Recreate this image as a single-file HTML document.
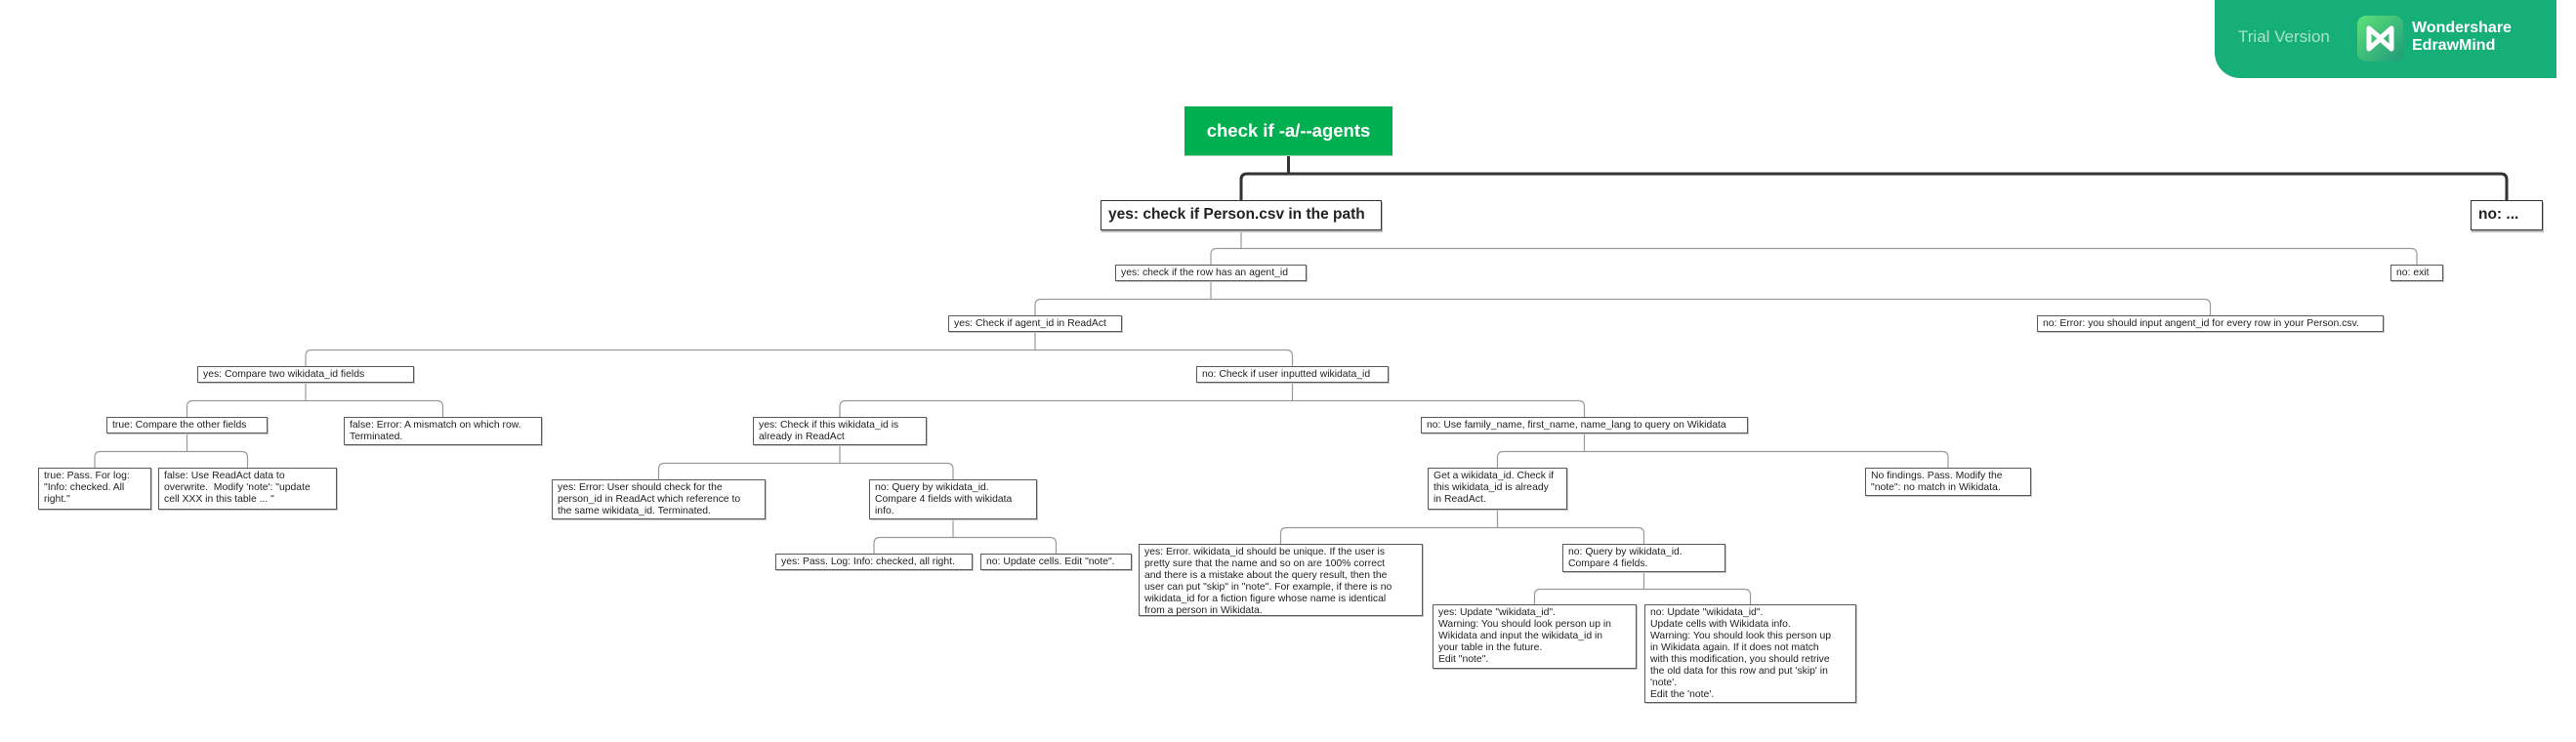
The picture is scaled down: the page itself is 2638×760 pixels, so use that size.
<!DOCTYPE html>
<html><head><meta charset="utf-8">
<style>
html,body{margin:0;padding:0;background:#fff;}
body{width:2638px;height:760px;position:relative;overflow:hidden;font-family:"Liberation Sans",Arial,sans-serif;}
.b{position:absolute;box-sizing:border-box;border:1px solid #5a5a5a;box-shadow:1px 1px 0 #c4c4c4;background:#fff;font-size:10.4px;line-height:12px;padding:2px 5px;color:#222;white-space:nowrap;}
.big{font-weight:bold;font-size:15.5px;line-height:27px;padding:0 7px;border:1.5px solid #333;box-shadow:1px 2px 0 #bbb;}
#root{position:absolute;left:1213px;top:109px;width:213px;height:50px;background:#00b050;color:#fff;font-weight:bold;font-size:18.5px;line-height:50px;text-align:center;box-shadow:0 1px 0 #9bd3b0;}
#banner{position:absolute;left:2268px;top:0;width:350px;height:80px;background:#16ae79;border-bottom-left-radius:26px;}
svg{position:absolute;left:0;top:0;}
</style></head><body>
<svg id="lines" width="2638" height="760"></svg>
<div id="banner">
 <div style="position:absolute;left:24px;top:28px;font-size:17px;color:#a9e2cc;">Trial Version</div>
 <div style="position:absolute;left:146px;top:16px;width:47px;height:47px;border-radius:9px;background:linear-gradient(135deg,#5fe07a,#1f9a7a);">
  <svg width="47" height="47" viewBox="0 0 47 47" style="position:absolute;left:0;top:0"><path d="M12 13 L12 34 L23.5 24 L35 34 L35 13 L23.5 23 Z" fill="none" stroke="#fff" stroke-width="5" stroke-linejoin="round"/></svg>
 </div>
 <div style="position:absolute;left:202px;top:20px;font-size:16px;line-height:18px;font-weight:bold;color:#fff;">Wondershare<br>EdrawMind</div>
</div>

<div id="root">check if -a/--agents</div>
<div class="b big" id="P" style="left:1127px;top:205px;width:288px;height:31px;">yes: check if Person.csv in the path</div>
<div class="b big" id="N" style="left:2530px;top:205px;width:74px;height:31px;">no: ...</div>
<div class="b" id="A" style="left:1142px;top:271px;width:196px;height:17px;">yes: check if the row has an agent_id</div>
<div class="b" id="X" style="left:2448px;top:271px;width:54px;height:17px;">no: exit</div>
<div class="b" id="B" style="left:971px;top:323px;width:178px;height:17px;">yes: Check if agent_id in ReadAct</div>
<div class="b" id="E1" style="left:2086px;top:323px;width:355px;height:17px;">no: Error: you should input angent_id for every row in your Person.csv.</div>
<div class="b" id="C" style="left:202px;top:375px;width:222px;height:17px;">yes: Compare two wikidata_id fields</div>
<div class="b" id="D" style="left:1225px;top:375px;width:197px;height:17px;">no: Check if user inputted wikidata_id</div>
<div class="b" id="C1" style="left:109px;top:427px;width:165px;height:17px;">true: Compare the other fields</div>
<div class="b" id="C2" style="left:352px;top:427px;width:203px;height:29px;">false: Error: A mismatch on which row.<br>Terminated.</div>
<div class="b" id="C11" style="left:39px;top:479px;width:116px;height:43px;">true: Pass. For log:<br>"Info: checked. All<br>right."</div>
<div class="b" id="C12" style="left:162px;top:479px;width:183px;height:43px;">false: Use ReadAct data to<br>overwrite.&nbsp; Modify 'note': "update<br>cell XXX in this table ... "</div>
<div class="b" id="D1" style="left:771px;top:427px;width:178px;height:29px;">yes: Check if this wikidata_id is<br>already in ReadAct</div>
<div class="b" id="D2" style="left:1455px;top:427px;width:335px;height:17px;">no: Use family_name, first_name, name_lang to query on Wikidata</div>
<div class="b" id="D11" style="left:565px;top:491px;width:219px;height:41px;">yes: Error: User should check for the<br>person_id in ReadAct which reference to<br>the same wikidata_id. Terminated.</div>
<div class="b" id="D12" style="left:890px;top:491px;width:172px;height:41px;">no: Query by wikidata_id.<br>Compare 4 fields with wikidata<br>info.</div>
<div class="b" id="D121" style="left:794px;top:567px;width:202px;height:17px;">yes: Pass. Log: Info: checked, all right.</div>
<div class="b" id="D122" style="left:1004px;top:567px;width:155px;height:17px;">no: Update cells. Edit "note".</div>
<div class="b" id="D21" style="left:1462px;top:479px;width:143px;height:43px;">Get a wikidata_id. Check if<br>this wikidata_id is already<br>in ReadAct.</div>
<div class="b" id="D22" style="left:1910px;top:479px;width:170px;height:29px;">No findings. Pass. Modify the<br>"note": no match in Wikidata.</div>
<div class="b" id="D211" style="left:1166px;top:557px;width:291px;height:74px;">yes: Error. wikidata_id should be unique. If the user is<br>pretty sure that the name and so on are 100% correct<br>and there is a mistake about the query result, then the<br>user can put "skip" in "note". For example, if there is no<br>wikidata_id for a fiction figure whose name is identical<br>from a person in Wikidata.</div>
<div class="b" id="D212" style="left:1600px;top:557px;width:167px;height:29px;">no: Query by wikidata_id.<br>Compare 4 fields.</div>
<div class="b" id="D2121" style="left:1467px;top:619px;width:209px;height:66px;">yes: Update "wikidata_id".<br>Warning: You should look person up in<br>Wikidata and input the wikidata_id in<br>your table in the future.<br>Edit "note".</div>
<div class="b" id="D2122" style="left:1684px;top:619px;width:217px;height:101px;">no: Update "wikidata_id".<br>Update cells with Wikidata info.<br>Warning: You should look this person up<br>in Wikidata again. If it does not match<br>with this modification, you should retrive<br>the old data for this row and put 'skip' in<br>'note'.<br>Edit the 'note'.</div>

<script>
(function(){
var svg=document.getElementById('lines');
function g(id){var e=document.getElementById(id);return {x:e.offsetLeft,y:e.offsetTop,w:e.offsetWidth,h:e.offsetHeight};}
function conn(p,kids,thick){
  var P=g(p);var px=P.x+P.w/2,pb=P.y+P.h;
  var cs=kids.map(g);var ct=cs[0].y;
  var by=thick?178:Math.round((pb+ct)/2)+0.5;
  var r=6,d='M'+px+' '+pb+' L'+px+' '+by;
  cs.forEach(function(c){
    var cx=c.x+c.w/2;var dir=cx<px?-1:1;
    if(Math.abs(cx-px)<1){d+=' M'+px+' '+by+' L'+cx+' '+c.y;return;}
    d+=' M'+px+' '+by+' L'+(cx-dir*r)+' '+by+' Q'+cx+' '+by+' '+cx+' '+(by+r)+' L'+cx+' '+c.y;
  });
  var path=document.createElementNS('http://www.w3.org/2000/svg','path');
  path.setAttribute('d',d);path.setAttribute('fill','none');
  path.setAttribute('stroke',thick?'#333':'#9a9a9a');
  path.setAttribute('stroke-width',thick?'3':'1.2');
  svg.appendChild(path);
}
conn('root',['P','N'],true);
conn('P',['A','X']);
conn('A',['B','E1']);
conn('B',['C','D']);
conn('C',['C1','C2']);
conn('C1',['C11','C12']);
conn('D',['D1','D2']);
conn('D1',['D11','D12']);
conn('D12',['D121','D122']);
conn('D2',['D21','D22']);
conn('D21',['D211','D212']);
conn('D212',['D2121','D2122']);
})();
</script>
</body></html>
